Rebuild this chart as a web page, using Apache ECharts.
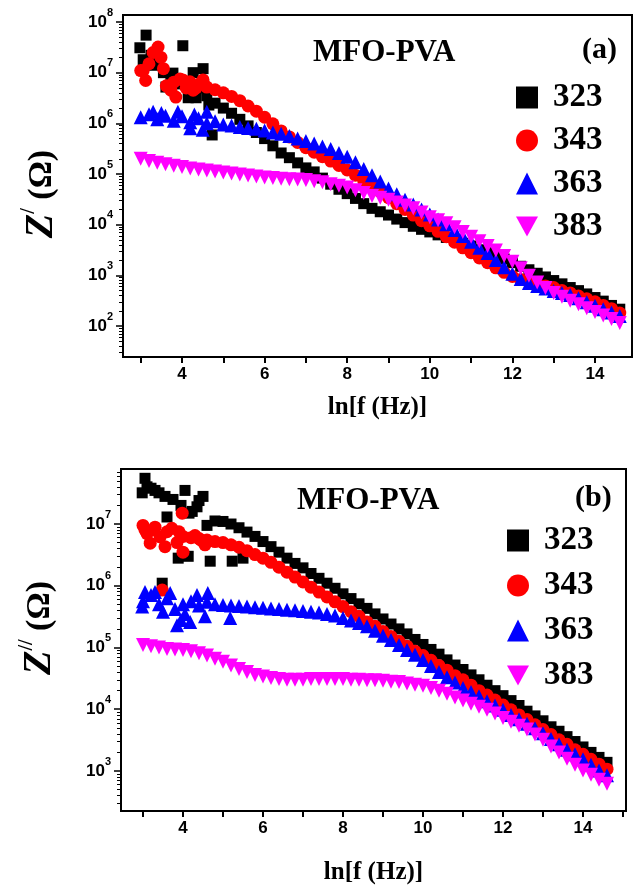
<!DOCTYPE html>
<html>
<head>
<meta charset="utf-8">
<script src="https://cdn.jsdelivr.net/npm/echarts@6/dist/echarts.min.js"></script>
<style>
html, body { margin: 0; padding: 0; background: #fff; }
#chart { width: 635px; height: 889px; }
</style>
</head>
<body>
<div id="chart"></div>
<script>
// Shared ln f grid (step 0.2) for the smooth part of every curve
const lnF = [3.0, 3.2, 3.4, 3.6, 3.8, 4.0, 4.2, 4.4, 4.6, 4.8,
  5.0, 5.2, 5.4, 5.6, 5.8, 6.0, 6.2, 6.4, 6.6, 6.8,
  7.0, 7.2, 7.4, 7.6, 7.8, 8.0, 8.2, 8.4, 8.6, 8.8,
  9.0, 9.2, 9.4, 9.6, 9.8, 10.0, 10.2, 10.4, 10.6, 10.8,
  11.0, 11.2, 11.4, 11.6, 11.8, 12.0, 12.2, 12.4, 12.6, 12.8,
  13.0, 13.2, 13.4, 13.6, 13.8, 14.0, 14.2, 14.4, 14.6];

const temps = ['323', '343', '363', '383'];

// (a) real part Z' (Ohm) on the lnF grid; null where only scattered low-frequency points exist
const zReal323 = [null, null, null, null, null, null, null, null, null, 2.5e6,
  2.0e6, 1.58e6, 1.2e6, 8.9e5, 6.6e5, 5.0e5, 3.6e5, 2.6e5, 2.1e5, 1.66e5,
  1.32e5, 1.1e5, 8.3e4, 6.3e4, 5.0e4, 4.1e4, 3.3e4, 2.6e4, 2.1e4, 1.8e4,
  1.55e4, 1.29e4, 1.1e4, 9.3e3, 8.1e3, 7.2e3, 6.3e3, 5.6e3, 4.9e3, 4.3e3,
  3.8e3, 3.2e3, 2.8e3, 2.4e3, 2.1e3, 1.78e3, 1.51e3, 1.29e3, 1.1e3, 930,
  790, 680, 575, 500, 430, 365, 310, 255, 215];
const zReal343 = [null, null, null, null, null, null, null, null, 5.2e6, 4.6e6,
  4.0e6, 3.4e6, 2.8e6, 2.2e6, 1.74e6, 1.32e6, 9.8e5, 7.1e5, 5.4e5, 4.2e5,
  3.3e5, 2.7e5, 2.2e5, 1.8e5, 1.48e5, 1.2e5, 9.5e4, 7.4e4, 5.8e4, 4.5e4,
  3.4e4, 2.6e4, 2.0e4, 1.55e4, 1.2e4, 9.5e3, 7.4e3, 5.8e3, 4.5e3, 3.5e3,
  2.8e3, 2.2e3, 1.78e3, 1.41e3, 1.15e3, 955, 830, 740, 680, 620,
  575, 500, 450, 390, 345, 300, 255, 220, 180];
const zReal363 = [1.32e6, 1.51e6, 1.2e6, 1.41e6, 1.12e6, 1.38e6, 1.05e6, 1.26e6, 1.0e6, 1.1e6,
  9.5e5, 9.1e5, 8.5e5, 8.1e5, 7.8e5, 7.2e5, 6.6e5, 6.2e5, 5.6e5, 5.0e5,
  4.5e5, 4.0e5, 3.5e5, 3.1e5, 2.6e5, 2.2e5, 1.7e5, 1.26e5, 9.5e4, 7.1e4,
  5.2e4, 4.0e4, 3.1e4, 2.5e4, 2.0e4, 1.58e4, 1.26e4, 1.02e4, 7.9e3, 6.0e3,
  4.6e3, 3.5e3, 2.75e3, 2.0e3, 1.45e3, 1.07e3, 850, 710, 620, 550,
  490, 450, 410, 355, 295, 250, 215, 185, 158];
const zReal383 = [2.0e5, 1.8e5, 1.66e5, 1.55e5, 1.45e5, 1.38e5, 1.29e5, 1.23e5, 1.17e5, 1.12e5,
  1.07e5, 1.02e5, 9.8e4, 9.3e4, 8.9e4, 8.5e4, 8.3e4, 8.1e4, 7.9e4, 7.8e4,
  7.6e4, 7.2e4, 6.9e4, 6.3e4, 5.9e4, 5.4e4, 4.8e4, 4.2e4, 3.7e4, 3.4e4,
  3.1e4, 2.75e4, 2.4e4, 2.1e4, 1.74e4, 1.41e4, 1.23e4, 1.07e4, 8.9e3, 7.2e3,
  5.8e3, 4.7e3, 3.8e3, 3.1e3, 2.4e3, 1.86e3, 1.38e3, 980, 720, 560,
  450, 380, 316, 270, 224, 190, 162, 138, 115];

// (a) scattered low-frequency points [ln f, Z']
const zRealLow323 = [[2.98, 3.1e7], [3.06, 1.8e7], [3.13, 5.5e7], [3.25, 2.2e7], [3.3, 1.4e7],
  [3.42, 1.8e7], [3.55, 1.0e7], [3.61, 5.2e6], [3.73, 9.0e6], [3.78, 9.8e6], [3.9, 6.0e6],
  [4.02, 3.4e7], [4.15, 3.2e6], [4.27, 1.0e7], [4.34, 3.2e6], [4.4, 5.0e6], [4.51, 1.2e7],
  [4.6, 3.5e6], [4.65, 2.3e6], [4.73, 5.9e5]];
const zRealLow343 = [[3.0, 1.1e7], [3.06, 1.1e7], [3.12, 7.0e6], [3.2, 1.5e7], [3.3, 2.5e7],
  [3.42, 3.2e7], [3.49, 2.0e7], [3.55, 1.2e7], [3.62, 5.5e6], [3.73, 4.5e6], [3.8, 6.5e6],
  [3.85, 3.3e6], [3.95, 7.5e6], [4.02, 7.2e6], [4.1, 5.0e6], [4.19, 6.6e6], [4.27, 4.5e6],
  [4.34, 5.0e6], [4.42, 6.0e6], [4.51, 7.2e6]];
const zRealLow363 = [[3.3, 1.7e6], [3.5, 1.6e6], [3.9, 1.7e6], [4.2, 8.0e5], [4.3, 1.5e6],
  [4.5, 7.5e5], [4.6, 1.7e6]];

// (b) imaginary part Z'' (Ohm) on the lnF grid
const zImag323 = [null, null, null, null, null, null, null, null, 9.5e6, 1.12e7,
  1.1e7, 1.0e7, 8.7e6, 7.4e6, 6.3e6, 5.2e6, 4.3e6, 3.5e6, 2.8e6, 2.3e6,
  1.95e6, 1.58e6, 1.32e6, 1.1e6, 9.1e5, 7.4e5, 6.2e5, 5.1e5, 4.3e5, 3.5e5,
  2.9e5, 2.4e5, 2.0e5, 1.66e5, 1.35e5, 1.12e5, 9.3e4, 7.8e4, 6.3e4, 5.2e4,
  4.4e4, 3.6e4, 3.0e4, 2.45e4, 2.0e4, 1.66e4, 1.38e4, 1.15e4, 9.3e3, 7.8e3,
  6.5e3, 5.2e3, 4.4e3, 3.6e3, 3.0e3, 2.45e3, 2.0e3, 1.66e3, 1.38e3];
const zImag343 = [null, null, null, null, null, 6.3e6, 6.0e6, 5.8e6, 5.5e6, 5.2e6,
  5.0e6, 4.6e6, 4.2e6, 3.7e6, 3.2e6, 2.8e6, 2.4e6, 2.0e6, 1.66e6, 1.38e6,
  1.15e6, 9.5e5, 7.9e5, 6.6e5, 5.5e5, 4.6e5, 3.8e5, 3.2e5, 2.6e5, 2.2e5,
  1.82e5, 1.51e5, 1.26e5, 1.05e5, 8.7e4, 7.4e4, 6.2e4, 5.1e4, 4.3e4, 3.5e4,
  3.0e4, 2.45e4, 2.0e4, 1.7e4, 1.41e4, 1.17e4, 9.8e3, 8.1e3, 6.8e3, 5.6e3,
  4.7e3, 3.9e3, 3.2e3, 2.7e3, 2.2e3, 1.86e3, 1.55e3, 1.29e3, 1.07e3];
const zImag363 = [5.6e5, 7.1e5, 5.0e5, 6.3e5, 4.2e5, 5.0e5, 5.6e5, 4.8e5, 5.5e5, 5.0e5,
  4.9e5, 4.8e5, 4.7e5, 4.6e5, 4.5e5, 4.4e5, 4.3e5, 4.2e5, 4.1e5, 4.0e5,
  3.9e5, 3.8e5, 3.7e5, 3.5e5, 3.3e5, 3.0e5, 2.75e5, 2.5e5, 2.2e5, 1.86e5,
  1.55e5, 1.32e5, 1.1e5, 9.1e4, 7.6e4, 6.3e4, 5.0e4, 4.0e4, 3.3e4, 2.7e4,
  2.2e4, 1.9e4, 1.62e4, 1.35e4, 1.15e4, 9.8e3, 8.1e3, 6.9e3, 5.8e3, 4.9e3,
  4.1e3, 3.3e3, 2.7e3, 2.2e3, 1.86e3, 1.55e3, 1.26e3, 1.02e3, 850];
const zImag383 = [1.1e5, 1.05e5, 1.0e5, 9.5e4, 9.3e4, 9.1e4, 8.7e4, 8.1e4, 7.4e4, 6.6e4,
  5.9e4, 5.1e4, 4.5e4, 4.0e4, 3.6e4, 3.4e4, 3.2e4, 3.1e4, 3.0e4, 3.0e4,
  3.0e4, 3.1e4, 3.1e4, 3.1e4, 3.1e4, 3.1e4, 3.0e4, 3.0e4, 2.95e4, 2.95e4,
  2.9e4, 2.8e4, 2.75e4, 2.6e4, 2.5e4, 2.4e4, 2.2e4, 2.0e4, 1.78e4, 1.55e4,
  1.38e4, 1.23e4, 1.1e4, 9.8e3, 8.5e3, 7.2e3, 6.3e3, 5.4e3, 4.7e3, 3.9e3,
  3.2e3, 2.5e3, 2.0e3, 1.58e3, 1.26e3, 1.02e3, 870, 720, 620];

// (b) scattered low-frequency points [ln f, Z'']
const zImagLow323 = [[2.98, 3.2e7], [3.05, 5.5e7], [3.1, 4.0e7], [3.2, 3.8e7], [3.3, 3.5e7],
  [3.4, 3.2e7], [3.55, 2.8e7], [3.6, 1.3e7], [3.75, 2.5e7], [3.88, 2.8e6], [3.95, 2.0e7],
  [4.05, 3.5e7], [4.13, 3.0e6], [4.15, 1.5e7], [4.23, 1.6e7], [4.35, 1.9e7], [4.4, 2.4e7],
  [4.5, 2.8e7], [4.68, 2.5e6], [5.23, 2.5e6], [5.5, 2.8e6], [3.48, 1.1e6]];
const zImagLow343 = [[3.0, 9.5e6], [3.05, 8.0e6], [3.1, 7.0e6], [3.18, 4.9e6], [3.25, 8.0e6],
  [3.3, 8.9e6], [3.43, 6.2e6], [3.48, 8.5e5], [3.55, 4.3e6], [3.6, 7.5e6], [3.72, 8.5e6],
  [3.85, 5.0e6], [3.9, 7.5e6], [3.98, 1.5e7], [4.0, 3.5e6], [4.3, 6.5e6], [4.45, 5.5e6],
  [4.55, 4.6e6]];
const zImagLow363 = [[2.98, 4.6e5], [3.05, 7.9e5], [3.3, 7.9e5], [3.5, 3.8e5], [3.68, 7.6e5],
  [3.85, 2.3e5], [3.95, 2.8e5], [4.05, 3.5e5], [4.18, 2.6e5], [4.35, 7.1e5], [4.55, 3.2e5],
  [4.62, 7.6e5], [5.18, 3.0e5]];

// axis tick values
const xLabels = [4, 6, 8, 10, 12, 14];
const yLabelsA = [1e2, 1e3, 1e4, 1e5, 1e6, 1e7, 1e8];
const yLabelsB = [1e3, 1e4, 1e5, 1e6, 1e7];

const pairs = (xs, ys) => xs.map((x, i) => [x, ys[i]]).filter(p => p[1] != null);

// minor tick positions log10(m * 10^k), m = 2..9, inside an extent given in decades
function minorTickExponents(lo, hi) {
  const out = [];
  for (let e = Math.floor(lo); e <= Math.ceil(hi); e++) {
    for (let m = 2; m <= 9; m++) {
      const v = e + Math.log10(m);
      if (v >= lo && v <= hi) out.push(v);
    }
  }
  return out;
}

const BLACK = '#000000', RED = '#ff0000', BLUE = '#0000ff', MAGENTA = '#ff00ff';
const serif = 'Liberation Serif';
const sans = 'Liberation Sans';
const DOWN_TRIANGLE = 'path://M0,0 L20,0 L10,18 Z';

const supRich = {
  b: { fontFamily: sans, fontWeight: 'bold', fontSize: 17, lineHeight: 30, color: '#000' },
  s: { fontFamily: sans, fontWeight: 'bold', fontSize: 11, lineHeight: 12, verticalAlign: 'top', color: '#000' }
};
const powLabel = v => '{b|10}{s|' + Math.round(Math.log10(v)) + '}';

function nameRich() {
  return {
    z: { fontFamily: serif, fontStyle: 'italic', fontWeight: 'bold', fontSize: 40, lineHeight: 46, color: '#000' },
    p: { fontFamily: serif, fontWeight: 'bold', fontSize: 20, lineHeight: 20, verticalAlign: 'top', color: '#000' },
    o: { fontFamily: serif, fontWeight: 'bold', fontSize: 34, lineHeight: 46, color: '#000' }
  };
}

const gridA = { left: 123, top: 15, width: 509, height: 342 };
const gridB = { left: 121, top: 469, width: 505, height: 342 };
const xA = [2.571, 14.896];
const xB = [2.45, 15.075];
// y extents in decades (log10 of Ohm)
const decA = [1.389, 8.138];
const decB = [2.352, 7.891];

function xAxisFor(gridIndex, ext, ticks, gap) {
  return {
    type: 'value', gridIndex, min: ext[0], max: ext[1],
    axisLine: { show: true, onZero: false, lineStyle: { color: '#000', width: 2 } },
    axisTick: { show: true, customValues: ticks, length: 6, lineStyle: { color: '#000', width: 2 } },
    axisLabel: { customValues: xLabels, margin: 9, fontFamily: sans, fontWeight: 'bold', fontSize: 17, color: '#000' },
    splitLine: { show: false },
    name: 'ln[f (Hz)]', nameLocation: 'middle', nameGap: gap,
    nameTextStyle: { fontFamily: serif, fontWeight: 'bold', fontSize: 25, color: '#000' }
  };
}

// hidden x axis for the overlay grids that only carry minor y ticks
function xHidden(gridIndex, ext) {
  return { type: 'value', gridIndex, min: ext[0], max: ext[1], show: false };
}

function yMajor(gridIndex, dec, labels, nameText, namePad) {
  return {
    type: 'log', logBase: 10, gridIndex, min: Math.pow(10, dec[0]), max: Math.pow(10, dec[1]), position: 'left',
    axisLine: { show: true, lineStyle: { color: '#000', width: 2 } },
    axisTick: { show: true, customValues: labels, length: 7, lineStyle: { color: '#000', width: 1.5 } },
    axisLabel: { customValues: labels, margin: 10, formatter: powLabel, rich: supRich },
    splitLine: { show: false }, minorSplitLine: { show: false },
    name: nameText, nameLocation: 'middle', nameGap: 58,
    nameTextStyle: { rich: nameRich(), padding: namePad }
  };
}

// linear axis in decades, used only to place the minor log ticks
function yMinor(gridIndex, dec) {
  return {
    type: 'value', gridIndex, min: dec[0], max: dec[1], position: 'left',
    axisLine: { show: false },
    axisTick: { show: true, customValues: minorTickExponents(dec[0], dec[1]), length: 4, lineStyle: { color: '#000', width: 1 } },
    axisLabel: { show: false },
    splitLine: { show: false }
  };
}

function scatter(name, data, xi, yi, symbol, size, color, rotate) {
  return {
    type: 'scatter', name, data, xAxisIndex: xi, yAxisIndex: yi,
    symbol, symbolSize: size, symbolRotate: rotate || 0,
    itemStyle: { color, opacity: 1 }, emphasis: { disabled: true }, silent: true
  };
}

const legendText = { fontFamily: serif, fontWeight: 'bold', fontSize: 33, lineHeight: 32, color: '#000', padding: [0, 0, 0, 10] };
const legendItems = ['323', '343', '363', { name: '383', icon: DOWN_TRIANGLE }];
const frame = { show: true, borderColor: '#000', borderWidth: 2, backgroundColor: 'transparent' };

const option = {
  animation: false,
  backgroundColor: '#fff',
  title: [
    { text: 'MFO-PVA', left: 313, top: 37, padding: 0, textStyle: { fontFamily: serif, fontWeight: 'bold', fontSize: 31, color: '#000' } },
    { text: '(a)', left: 582, top: 35, padding: 0, textStyle: { fontFamily: serif, fontWeight: 'bold', fontSize: 30, color: '#000' } },
    { text: 'MFO-PVA', left: 297, top: 485, padding: 0, textStyle: { fontFamily: serif, fontWeight: 'bold', fontSize: 31, color: '#000' } },
    { text: '(b)', left: 575, top: 483, padding: 0, textStyle: { fontFamily: serif, fontWeight: 'bold', fontSize: 30, color: '#000' } }
  ],
  legend: [
    { data: legendItems, orient: 'vertical', left: 516, top: 81, padding: 0, itemWidth: 22, itemHeight: 22, itemGap: 10, textStyle: legendText, selectedMode: false },
    { data: legendItems, orient: 'vertical', left: 507, top: 524, padding: 0, itemWidth: 22, itemHeight: 22, itemGap: 12, textStyle: legendText, selectedMode: false }
  ],
  grid: [
    Object.assign({}, frame, gridA),
    Object.assign({}, frame, gridB),
    Object.assign({ show: false }, gridA),
    Object.assign({ show: false }, gridB)
  ],
  xAxis: [
    xAxisFor(0, xA, [3, 4, 5, 6, 7, 8, 9, 10, 11, 12, 13, 14], 38),
    xAxisFor(1, xB, [3, 4, 5, 6, 7, 8, 9, 10, 11, 12, 13, 14, 15], 49),
    xHidden(2, xA),
    xHidden(3, xB)
  ],
  yAxis: [
    yMajor(0, decA, yLabelsA, '{z|Z}{p|/}{o| (Ω)}', [0, 16, 0, 0]),
    yMinor(2, decA),
    yMajor(1, decB, yLabelsB, '{z|Z}{p|//}{o| (Ω)}', [0, 0, 0, 24]),
    yMinor(3, decB)
  ],
  series: [
    scatter('323', zRealLow323.concat(pairs(lnF, zReal323)), 0, 0, 'rect', 11, BLACK),
    scatter('343', zRealLow343.concat(pairs(lnF, zReal343)), 0, 0, 'circle', 13, RED),
    scatter('363', zRealLow363.concat(pairs(lnF, zReal363)), 0, 0, 'triangle', 14, BLUE),
    scatter('383', pairs(lnF, zReal383), 0, 0, 'triangle', 14, MAGENTA, 180),
    scatter('323', zImagLow323.concat(pairs(lnF, zImag323)), 1, 2, 'rect', 11, BLACK),
    scatter('343', zImagLow343.concat(pairs(lnF, zImag343)), 1, 2, 'circle', 13, RED),
    scatter('363', zImagLow363.concat(pairs(lnF, zImag363)), 1, 2, 'triangle', 14, BLUE),
    scatter('383', pairs(lnF, zImag383), 1, 2, 'triangle', 14, MAGENTA, 180)
  ]
};

const chart = echarts.init(document.getElementById('chart'));
chart.setOption(option);
</script>
</body>
</html>
